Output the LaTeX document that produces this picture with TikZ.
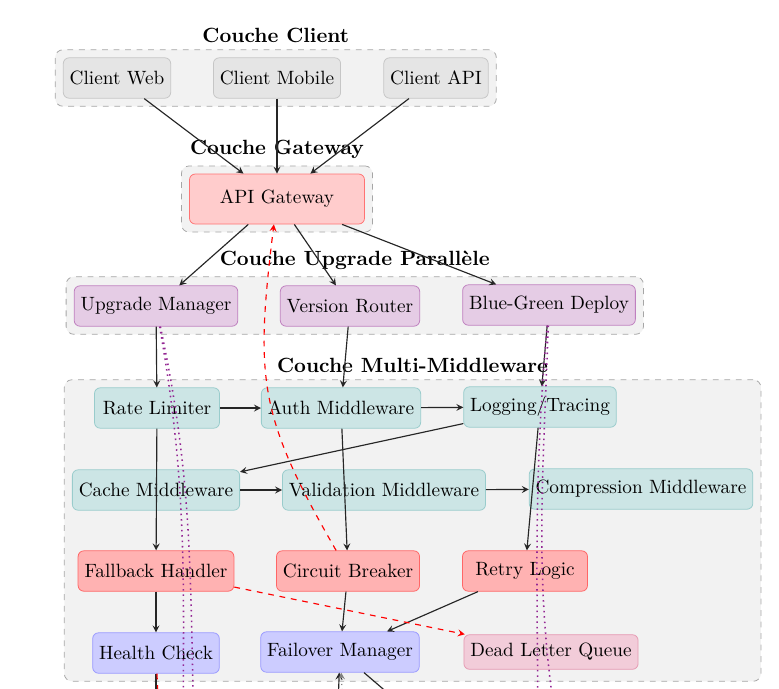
\documentclass[tikz,border=0pt]{standalone}
\usepackage{xcolor}
\usepackage{tikz}
\usetikzlibrary{fit,backgrounds}

\tikzset{
  box/.style={rectangle, rounded corners=3pt, draw, minimum height=21pt},
  client/.style={box, fill=gray!20, draw=gray!45},
  gateway/.style={box, fill=red!20, draw=red!55, minimum width=91pt, minimum height=26pt},
  upgrade/.style={box, fill=violet!20, draw=violet!50},
  mware/.style={box, fill=teal!20, draw=teal!40, minimum width=65pt},
  resil/.style={box, fill=red!30, draw=red!60, minimum width=65pt},
  recov/.style={box, fill=blue!20, draw=blue!40, minimum width=65pt},
  dlqbox/.style={box, fill=purple!20, draw=purple!40, minimum height=18pt},
  layer/.style={rectangle, rounded corners=4pt, draw=gray!70, dashed, fill=gray!10, inner sep=4pt},
  layertitle/.style={font=\fontsize{10.7pt}{13pt}\selectfont\bfseries},
  flow/.style={->, semithick, black!85},
  fail/.style={->, semithick, red, dashed},
  sync/.style={thick, violet!85, dotted},
}

\begin{document}
\begin{tikzpicture}[x=0.52pt, y=0.52pt, >=stealth]
    \useasboundingbox (0,0) rectangle (779,-688);
    \clip (0,0) rectangle (779,-688);
    % client layer
    \node[client] at (117,-78) (cweb) {Client Web};
    \node[client] at (277,-78) (cmob) {Client Mobile};
    \node[client] at (436,-78) (capi) {Client API};
    % gateway layer
    \node[gateway] at (277,-199) (gw) {API Gateway};
    % upgrade layer
    \node[upgrade] at (156,-306) (um) {Upgrade Manager};
    \node[upgrade] at (350,-306) (vr) {Version Router};
    \node[upgrade] at (549,-305) (bg) {Blue-Green Deploy};
    % middleware chain
    \node[mware] at (157,-408) (rl) {Rate Limiter};
    \node[mware] at (341,-408) (am) {Auth Middleware};
    \node[mware] at (540,-407) (lt) {Logging/Tracing};
    \node[mware] at (156,-490) (cmw) {Cache Middleware};
    \node[mware] at (384,-490) (vm) {Validation Middleware};
    \node[mware] at (641,-489) (cpm) {Compression Middleware};
    % resilience
    \node[resil] at (156,-571) (fh) {Fallback Handler};
    \node[resil] at (348,-571) (cb) {Circuit Breaker};
    \node[resil] at (525,-571) (rtl) {Retry Logic};
    \node[recov] at (156,-653) (hc) {Health Check};
    \node[recov] at (340,-652) (fm) {Failover Manager};
    \node[dlqbox] at (551,-652) (dlq) {Dead Letter Queue};
    % layers
    \begin{scope}[on background layer]
        \node[layer, fit=(cweb)(cmob)(capi), label={[layertitle]above:Couche Client}] (lclient) {};
        \node[layer, fit=(gw), label={[layertitle]above:Couche Gateway}] (lgw) {};
        \node[layer, fit=(um)(vr)(bg), label={[layertitle]above:Couche Upgrade Parallèle}] (lupg) {};
        \node[layer, fit=(rl)(cmw)(cpm)(hc)(dlq), label={[layertitle]above:Couche Multi-Middleware}] (lmw) {};
    \end{scope}
    % ends below the visible part
    \coordinate (hcout) at (156,-760);
    \coordinate (hcred) at (161,-760);
    \coordinate (fmin) at (336,-760);
    \coordinate (fmsync) at (346,-760);
    \coordinate (fmout) at (466,-760);
    \coordinate (uma) at (183,-760);
    \coordinate (umb) at (195,-760);
    \coordinate (bga) at (538,-760);
    \coordinate (bgb) at (562,-760);
    % requests
    \draw[flow] (cweb) -- (gw);
    \draw[flow] (cmob) -- (gw);
    \draw[flow] (capi) -- (gw);
    \draw[flow] (gw) -- (um);
    \draw[flow] (gw) -- (vr);
    \draw[flow] (gw) -- (bg);
    \draw[flow] (um) -- (rl);
    \draw[flow] (vr) -- (am);
    \draw[flow] (bg) -- (lt);
    \draw[flow] (rl) -- (am);
    \draw[flow] (am) -- (lt);
    \draw[flow] (lt) -- (cmw);
    \draw[flow] (cmw) -- (vm);
    \draw[flow] (vm) -- (cpm);
    \draw[flow] (rl) -- (fh);
    \draw[flow] (am) -- (cb);
    \draw[flow] (lt) -- (rtl);
    \draw[flow] (fh) -- (hc);
    \draw[flow] (cb) -- (fm);
    \draw[flow] (rtl) -- (fm);
    \draw[flow] (fmin) -- (fm);
    \draw[semithick, black!85] (hc) -- (hcout);
    \draw[semithick, black!85] (fm) -- (fmout);
    % failures
    \draw[fail] (fh) -- (dlq);
    \draw[fail] (cb) to[out=120, in=-97, looseness=1.2] (gw);
    \draw[semithick, red, dashed] (hc) -- (hcred);
    % upgrade sync
    \draw[sync] (um) to[out=-80, in=90] (uma);
    \draw[sync] (um) to[out=-78, in=92] (umb);
    \draw[sync] (bg) to[out=-95, in=90] (bga);
    \draw[sync] (bg) to[out=-92, in=100] (bgb);
    \draw[->, semithick, gray, dotted] (fmsync) -- (fm);
\end{tikzpicture}
\end{document}
